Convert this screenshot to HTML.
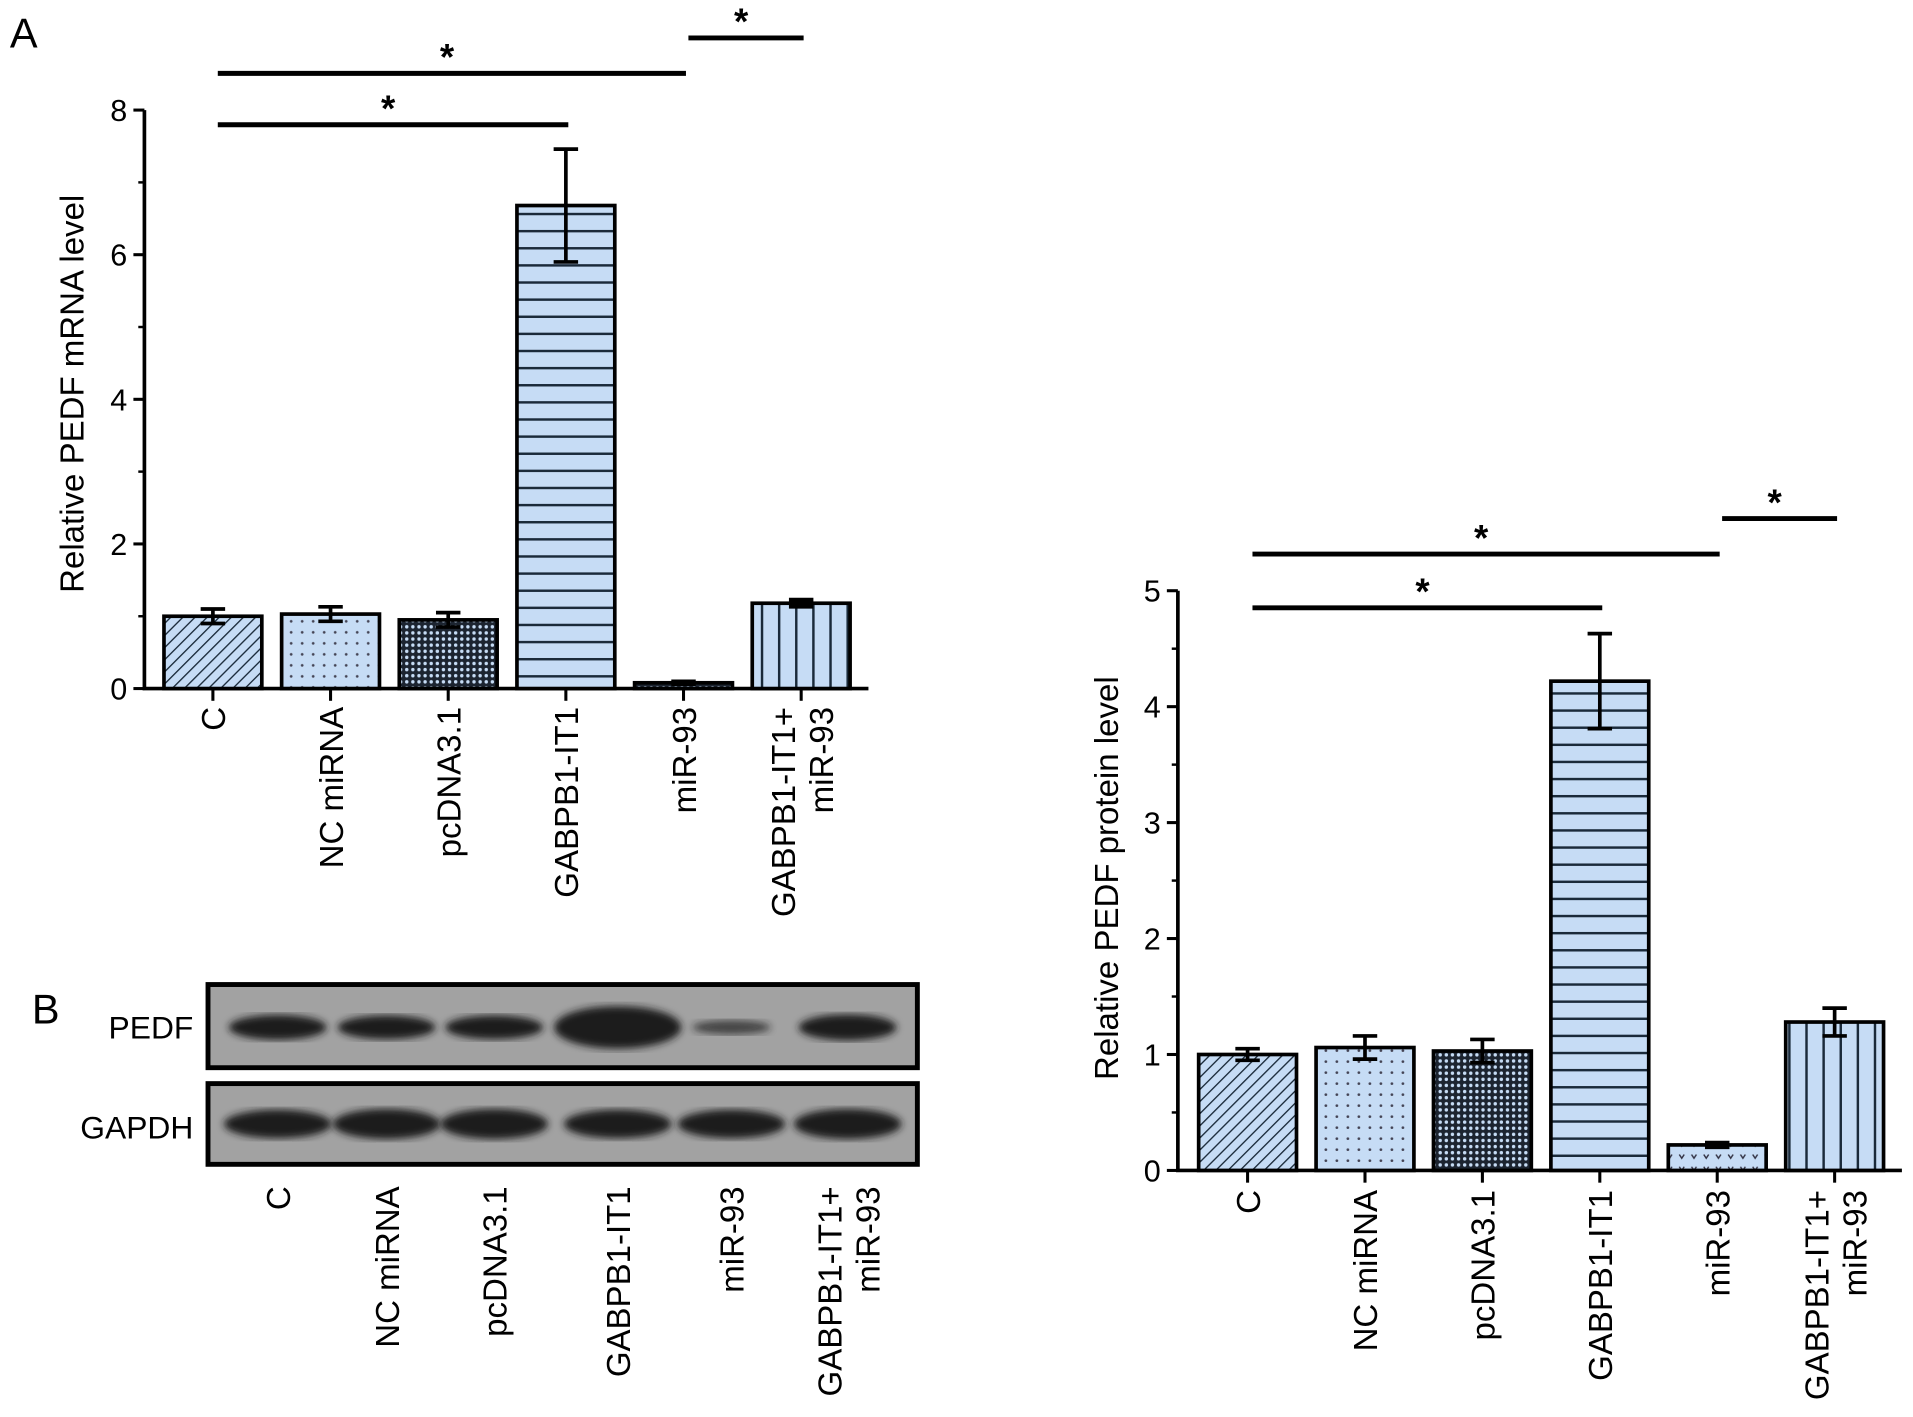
<!DOCTYPE html>
<html><head><meta charset="utf-8"><style>
html,body{margin:0;padding:0;background:#fff}
svg{display:block;font-family:"Liberation Sans",Arial,sans-serif}
</style></head><body>
<svg id="fig" width="1913" height="1417" viewBox="0 0 1564 1158.6" xmlns="http://www.w3.org/2000/svg">
<defs>
<pattern id="pDiag" width="7" height="7" patternUnits="userSpaceOnUse" patternTransform="rotate(45)"><rect width="7" height="7" fill="#c6dcf5"/><line x1="0" y1="0" x2="0" y2="7" stroke="#1a2a3a" stroke-width="2.2"/></pattern>
<pattern id="pDots" width="9" height="9" patternUnits="userSpaceOnUse"><rect width="9" height="9" fill="#c6dcf5"/><circle cx="4" cy="4" r="1.1" fill="#445"/></pattern>
<pattern id="pCheck" width="5" height="5" patternUnits="userSpaceOnUse"><rect width="5" height="5" fill="#1c2430"/><circle cx="2.5" cy="2.5" r="1.4" fill="#c6dcf5"/></pattern>
<pattern id="pHoriz" width="10" height="14" patternUnits="userSpaceOnUse"><rect width="10" height="14" fill="#c6dcf5"/><line x1="0" y1="7" x2="10" y2="7" stroke="#1a2a3a" stroke-width="2"/></pattern>
<pattern id="pHeart" width="10" height="10" patternUnits="userSpaceOnUse"><rect width="10" height="10" fill="#c6dcf5"/><path d="M3 4 L5 7 L7 4" stroke="#334" stroke-width="1.2" fill="none"/></pattern>
<pattern id="pVert" width="14" height="10" patternUnits="userSpaceOnUse"><rect width="14" height="10" fill="#c6dcf5"/><line x1="7" y1="0" x2="7" y2="10" stroke="#1a2a3a" stroke-width="2"/></pattern>
<filter id="blur"><feGaussianBlur stdDeviation="3"/></filter>
</defs>
<text x="8" y="39" font-size="34">A</text>
<text x="26" y="837" font-size="34">B</text>
<g id="chartA"></g>
<g id="chartB"></g>
<g id="blot">
<rect x="170" y="805" width="580" height="68" fill="#a2a2a2" stroke="#000" stroke-width="4"/>
<rect x="170" y="886" width="580" height="66" fill="#a2a2a2" stroke="#000" stroke-width="4"/>
<text x="158" y="849" font-size="26" text-anchor="end">PEDF</text>
<text x="158" y="931" font-size="26" text-anchor="end">GAPDH</text>
</g>
</svg>
<script>
const categories=["C","NC miRNA","pcDNA3.1","GABPB1-IT1","miR-93","GABPB1-IT1+|miR-93"];
const mrnaValues=[1.0,1.03,0.95,6.68,0.08,1.18];
const mrnaErrors=[0.1,0.1,0.1,0.78,0.02,0.05];
const proteinValues=[1.0,1.06,1.03,4.22,0.22,1.28];
const proteinErrors=[0.05,0.1,0.1,0.41,0.02,0.12];
const mrnaTicks=[0,2,4,6,8];
const proteinTicks=[0,1,2,3,4,5];
const pedfBand=[0.8,0.75,0.75,1.6,0.3,0.85];
const gapdhBand=[0.9,0.95,0.95,0.9,0.9,0.95];
const mrnaSig=[[0,3,102],[0,4,60],[4,5,31]];
const proteinSig=[[0,3,497],[0,4,453],[4,5,424]];
const fillsA=["pDiag","pDots","pCheck","pHoriz","pCheck","pVert"];
const fillsB=["pDiag","pDots","pCheck","pHoriz","pHeart","pVert"];
const FS=27;
const NS="http://www.w3.org/2000/svg";
function mk(p,t,a){const e=document.createElementNS(NS,t);for(const k in a)e.setAttribute(k,a[k]);p.appendChild(e);return e;}
function chart(g,o){
 const y=v=>o.y0-(v/o.max)*(o.y0-o.yTop);
 const x=i=>o.x0c+i*o.step;
 const ax=mk(g,'path',{d:`M${o.ax} ${o.yTop} V${o.y0} H${o.axEnd}`,stroke:'#000','stroke-width':3,fill:'none'});
 
 
 o.ticks.forEach((t,i)=>{
  mk(g,'line',{x1:o.ax-9,x2:o.ax,y1:y(t),y2:y(t),stroke:'#000','stroke-width':2.5});
  const tl=mk(g,'text',{x:o.ax-14,y:y(t)+9,'font-size':25,'text-anchor':'end'});tl.textContent=t;
  
  
  if(i<o.ticks.length-1){const m=(t+o.ticks[i+1])/2;mk(g,'line',{x1:o.ax-5,x2:o.ax,y1:y(m),y2:y(m),stroke:'#000','stroke-width':2});}
 });
 const yt=mk(g,'text',{x:o.titleX,y:o.titleY,'font-size':FS,'text-anchor':'middle',transform:`rotate(-90 ${o.titleX} ${o.titleY})`});yt.textContent=o.title;
 
 
 o.vals.forEach((v,i)=>{
  const cx=x(i),w=80;
  const b=mk(g,'rect',{x:cx-w/2,y:y(v),width:w,height:o.y0-y(v),fill:`url(#${o.fills[i]})`,stroke:'#000','stroke-width':3});
  
  
  const e=o.errs[i],t=y(v+e),bt=y(v-e);
  const eb=mk(g,'path',{d:`M${cx} ${t} V${bt} M${cx-10} ${t} H${cx+10} M${cx-10} ${bt} H${cx+10}`,stroke:'#000','stroke-width':3,fill:'none'});
  
  
  mk(g,'line',{x1:cx,x2:cx,y1:o.y0,y2:o.y0+10,stroke:'#000','stroke-width':2.5});
  const parts=categories[i].split('|');
  const tx=cx+10-(parts.length-1)*15;
  const lab=mk(g,'text',{'font-size':FS,'text-anchor':'end',transform:`translate(${tx},${o.labelY}) rotate(-90)`});
  
  
  parts.forEach((p,k)=>{const ts=mk(lab,'tspan',{x:0,dy:k?31:0});ts.textContent=p;});
 });
 o.sig.forEach(s=>{
  const x1=x(s[0])+4,x2=x(s[1])+2;
  const l=mk(g,'line',{x1:x1,x2:x2,y1:s[2],y2:s[2],stroke:'#000','stroke-width':4});
  
  
  const st=mk(g,'text',{x:(x1+x2)/2-4,y:s[2]-3,'font-size':30,'font-weight':'bold','text-anchor':'middle'});st.textContent='*';
  
  
 });
}
chart(document.getElementById('chartA'),{ax:118,axEnd:710,y0:563,yTop:90,max:8,x0c:174,step:96.2,vals:mrnaValues,errs:mrnaErrors,ticks:mrnaTicks,fills:fillsA,title:'Relative PEDF mRNA level',titleX:68,titleY:322,labelY:578,sig:mrnaSig});
chart(document.getElementById('chartB'),{ax:963,axEnd:1555,y0:957,yTop:483,max:5,x0c:1020,step:96,vals:proteinValues,errs:proteinErrors,ticks:proteinTicks,fills:fillsB,title:'Relative PEDF protein level',titleX:914,titleY:718,labelY:973,sig:proteinSig});
const blot=document.getElementById('blot');
const bx=[227,316,404,505,598,693];
bx.forEach((cx,i)=>{
 const p=pedfBand[i];
 const b1=mk(blot,'ellipse',{cx:cx,cy:840,rx:(i==4?32:40)+(p>1?12:0),ry:9*p+3,fill:'#1e1e1e',filter:'url(#blur)',opacity:p<0.5?0.7:1});
 
 
 const b2=mk(blot,'ellipse',{cx:cx,cy:919,rx:44,ry:13*gapdhBand[i],fill:'#1e1e1e',filter:'url(#blur)'});
 
 
 const parts=categories[i].split('|');
 const lab=mk(blot,'text',{'font-size':FS,'text-anchor':'end',transform:`translate(${cx+10-(parts.length-1)*15},970) rotate(-90)`});
 
 
 parts.forEach((pp,k)=>{const ts=mk(lab,'tspan',{x:0,dy:k?31:0});ts.textContent=pp;});
});
</script>
</body></html>
